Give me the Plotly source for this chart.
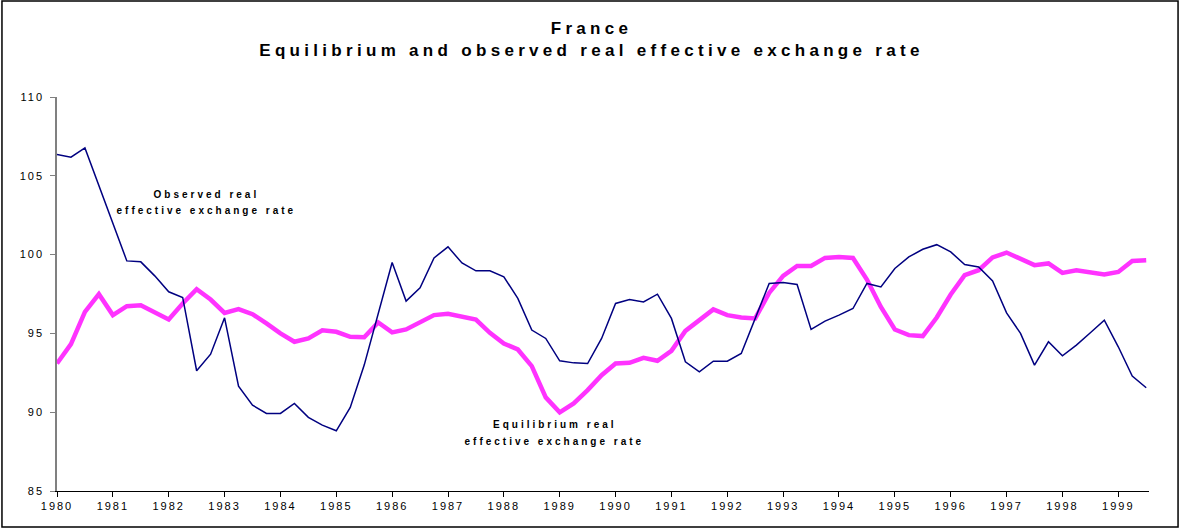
import plotly.graph_objects as go

# Quarterly data, 1980Q1 .. 1999Q3
start_year = 1980
observed = [
    106.35, 106.18, 106.77, 104.4,
    101.97, 99.6, 99.54, 98.65,
    97.64, 97.28, 92.63, 93.68,
    95.99, 91.65, 90.45, 89.92,
    89.92, 90.56, 89.67, 89.18,
    88.82, 90.3, 92.99, 96.26,
    99.5, 97.05, 97.89, 99.79,
    100.49, 99.47, 98.97, 98.97,
    98.59, 97.22, 95.21, 94.68,
    93.26, 93.13, 93.09, 94.68,
    96.9, 97.15, 97.0, 97.49,
    95.95, 93.2, 92.56, 93.24,
    93.24, 93.73, 95.95, 98.17,
    98.23, 98.1, 95.25, 95.78,
    96.16, 96.58, 98.17, 97.95,
    99.12, 99.85, 100.34, 100.63,
    100.17, 99.37, 99.22, 98.33,
    96.3, 95.0, 92.99, 94.47,
    93.58, 94.26, 95.04, 95.84,
    94.15, 92.29, 91.55,
]
equilibrium = [
    93.09, 94.32, 96.37, 97.49,
    96.16, 96.73, 96.79, 96.37,
    95.88, 96.9, 97.81, 97.15,
    96.3, 96.54, 96.22, 95.63,
    95.0, 94.47, 94.68, 95.2,
    95.1, 94.78, 94.75, 95.69,
    95.06, 95.25, 95.69, 96.16,
    96.24, 96.09, 95.88, 95.04,
    94.36, 93.98, 92.92, 90.94,
    89.99, 90.56, 91.4, 92.35,
    93.09, 93.13, 93.45, 93.26,
    93.89, 95.16, 95.8, 96.52,
    96.16, 96.01, 95.95, 97.57,
    98.65, 99.28, 99.28, 99.79,
    99.85, 99.79, 98.42, 96.68,
    95.25, 94.89, 94.83, 96.01,
    97.47, 98.69, 99.01, 99.82,
    100.13, 99.71, 99.33, 99.44,
    98.84, 99.01, 98.9, 98.74,
    98.9, 99.6, 99.64,
]
year_ticks = list(range(1980, 2000))
year_labels = [str(y) for y in year_ticks]

x = [start_year + i / 4 for i in range(len(observed))]

FONT = "Liberation Sans, Arial, sans-serif"

fig = go.Figure()
fig.add_trace(go.Scatter(
    x=x, y=equilibrium, mode="lines", name="Equilibrium real effective exchange rate",
    line=dict(color="#FF33FF", width=4.5),
))
fig.add_trace(go.Scatter(
    x=x, y=observed, mode="lines", name="Observed real effective exchange rate",
    line=dict(color="#000080", width=1.5),
))

fig.update_layout(
    width=1183, height=529,
    margin=dict(l=57, r=34, t=97, b=38),
    paper_bgcolor="white", plot_bgcolor="white",
    showlegend=False,
    font=dict(family=FONT, color="black", size=11),
    title=dict(
        text="France<br>Equilibrium and observed real effective exchange rate",
        x=0.5, xref="container", xanchor="center",
        y=1 - 34 / 529, yref="container", yanchor="top",
        font=dict(family=FONT, size=17, color="black", weight="bold"),
    ),
    xaxis=dict(
        range=[1980, 1999.55],
        tickmode="array", tickvals=year_ticks, ticktext=year_labels,
        ticks="outside", ticklen=5, tickcolor="black",
        showline=True, linecolor="black", linewidth=1,
        showgrid=False, zeroline=False,
        tickfont=dict(size=11, color="black"),
    ),
    yaxis=dict(
        range=[85, 110], dtick=5, tick0=85,
        ticks="outside", ticklen=5, tickcolor="#808080",
        showline=True, linecolor="#808080", linewidth=1.5,
        showgrid=False, zeroline=False,
        tickfont=dict(size=11, color="black"),
        ticklabelstandoff=4,
    ),
)

ann_font = dict(family=FONT, size=10, color="black", weight="bold")
for text, ax, ay in [
    ("Observed real", 1982.67, 103.83),
    ("effective exchange rate", 1982.67, 102.83),
    ("Equilibrium real", 1988.91, 89.23),
    ("effective exchange rate", 1988.91, 88.17),
]:
    fig.add_annotation(x=ax, y=ay, xref="x", yref="y", text=text,
                       showarrow=False, font=ann_font,
                       xanchor="center", yanchor="middle")

# outer frame around the whole chart
fig.add_shape(type="rect", xref="paper", yref="paper",
              x0=-0.0504, x1=1.0266, y0=-0.0914, y1=1.2437,
              line=dict(color="black", width=1.5), fillcolor="rgba(0,0,0,0)")

post = """
document.body.style.margin='0';
var gd=document.getElementById('{plot_id}');
gd.querySelectorAll('.gtitle').forEach(function(t){t.style.letterSpacing='4.3px';});
gd.querySelectorAll('.annotation-text').forEach(function(t){t.style.letterSpacing='3px';});
gd.querySelectorAll('.xtick text, .ytick text').forEach(function(t){t.style.letterSpacing='2px';});
"""

fig.write_html("out.html", post_script=post, config={"displayModeBar": False})
